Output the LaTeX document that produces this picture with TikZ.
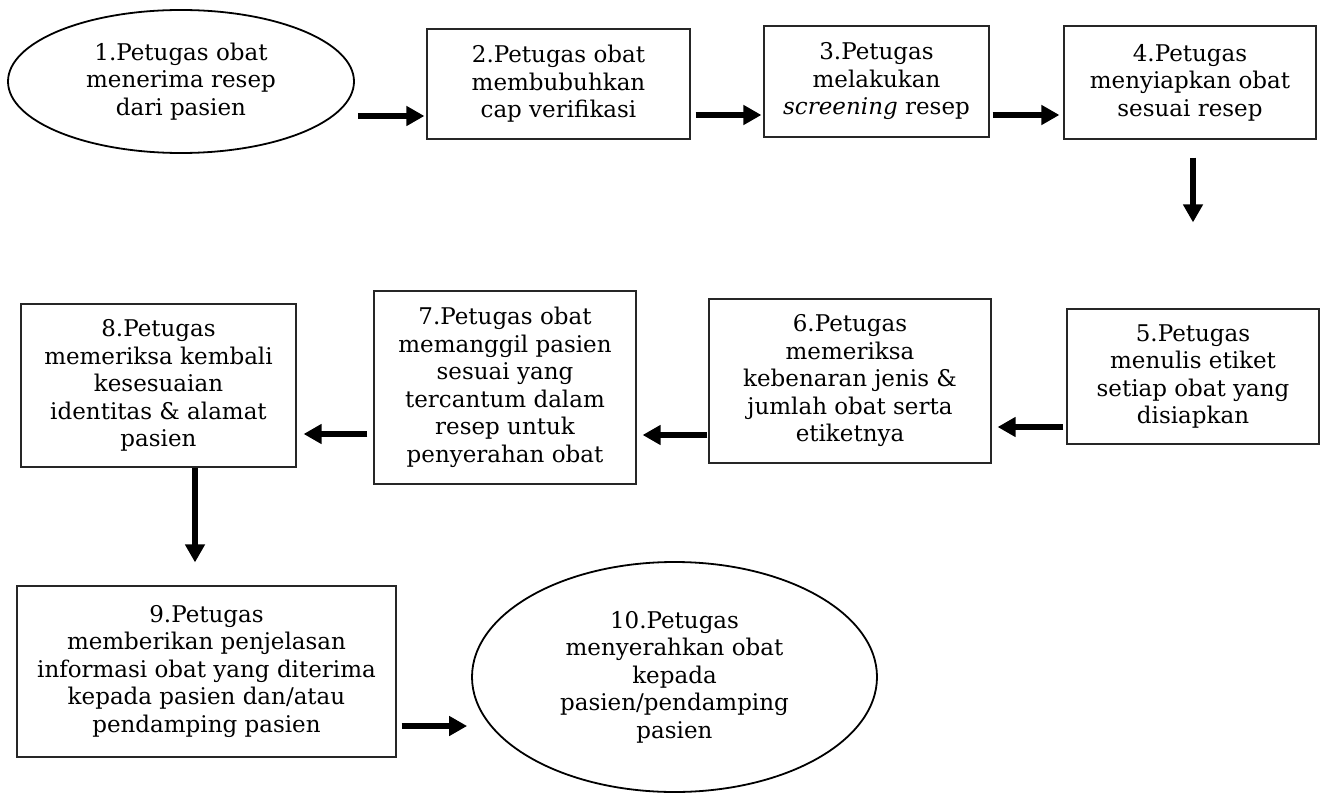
\documentclass[tikz,border=0pt]{standalone}
\usepackage{fontspec}
\setmainfont{DejaVu Serif}
\usetikzlibrary{shapes.geometric,arrows.meta}
\begin{document}
\begin{tikzpicture}[x=1pt,y=-1pt,
  every node/.style={align=center,inner sep=0pt,
    font=\fontsize{23}{27.5}\selectfont},
  stepbox/.style={draw=black!85,line width=1.2pt,rectangle},
  endoval/.style={draw=black,line width=1.8pt,ellipse},
  arr/.style={line width=6pt,-{Triangle[length=18pt,width=19pt]}}]
\useasboundingbox (0,0) rectangle (1324,794);
% row 1
\node[endoval,minimum width=346pt,minimum height=143pt] (e1) at (181,81.5)
  {1.Petugas obat\\menerima resep\\dari pasien};
\node[stepbox,minimum width=263pt,minimum height=110pt] (b2) at (558.5,84)
  {2.Petugas obat\\membubuhkan\\cap verifikasi};
\node[stepbox,minimum width=225pt,minimum height=111pt] (b3) at (876.5,81.5)
  {3.Petugas\\melakukan\\\textit{screening} resep};
\node[stepbox,minimum width=252pt,minimum height=113pt] (b4) at (1190,82.5)
  {4.Petugas\\menyiapkan obat\\sesuai resep};
% row 2
\node[stepbox,minimum width=252pt,minimum height=135pt] (b5) at (1193,376.5)
  {5.Petugas\\menulis etiket\\setiap obat yang\\disiapkan};
\node[stepbox,minimum width=282pt,minimum height=164pt] (b6) at (850,381)
  {6.Petugas\\memeriksa\\kebenaran jenis \&\\jumlah obat serta\\etiketnya};
\node[stepbox,minimum width=262pt,minimum height=193pt] (b7) at (505,387.5)
  {7.Petugas obat\\memanggil pasien\\sesuai yang\\tercantum dalam\\resep untuk\\penyerahan obat};
\node[stepbox,minimum width=275pt,minimum height=163pt] (b8) at (158.5,385.5)
  {8.Petugas\\memeriksa kembali\\kesesuaian\\identitas \& alamat\\pasien};
% row 3
\node[stepbox,minimum width=379pt,minimum height=171pt] (b9) at (206.5,671.5)
  {9.Petugas\\memberikan penjelasan\\informasi obat yang diterima\\kepada pasien dan/atau\\pendamping pasien};
\node[endoval,minimum width=405pt,minimum height=230pt] (e10) at (674.5,677)
  {10.Petugas\\menyerahkan obat\\kepada\\pasien/pendamping\\pasien};
% flow arrows
\draw[arr] ([shift={(3,34.5)}]e1.east) -- ([shift={(-2,32)}]b2.west);
\draw[arr] ([shift={(5,31)}]b2.east) -- ([shift={(-2,33.5)}]b3.west);
\draw[arr] ([shift={(3,33.5)}]b3.east) -- ([shift={(-4,32.5)}]b4.west);
\draw[arr] ([shift={(3,18)}]b4.south) -- ([shift={(0,-86)}]b5.north);
\draw[arr] ([shift={(-3,50.5)}]b5.west) -- ([shift={(6,46)}]b6.east);
\draw[arr] ([shift={(-1,54)}]b6.west) -- ([shift={(6,47.5)}]b7.east);
\draw[arr] ([shift={(-6,46.5)}]b7.west) -- ([shift={(7,48.5)}]b8.east);
\draw[arr] ([shift={(36.5,0)}]b8.south) -- ([shift={(-11.5,-23)}]b9.north);
\draw[arr] ([shift={(5,54.5)}]b9.east) -- ([shift={(-4,49)}]e10.west);
\end{tikzpicture}
\end{document}
